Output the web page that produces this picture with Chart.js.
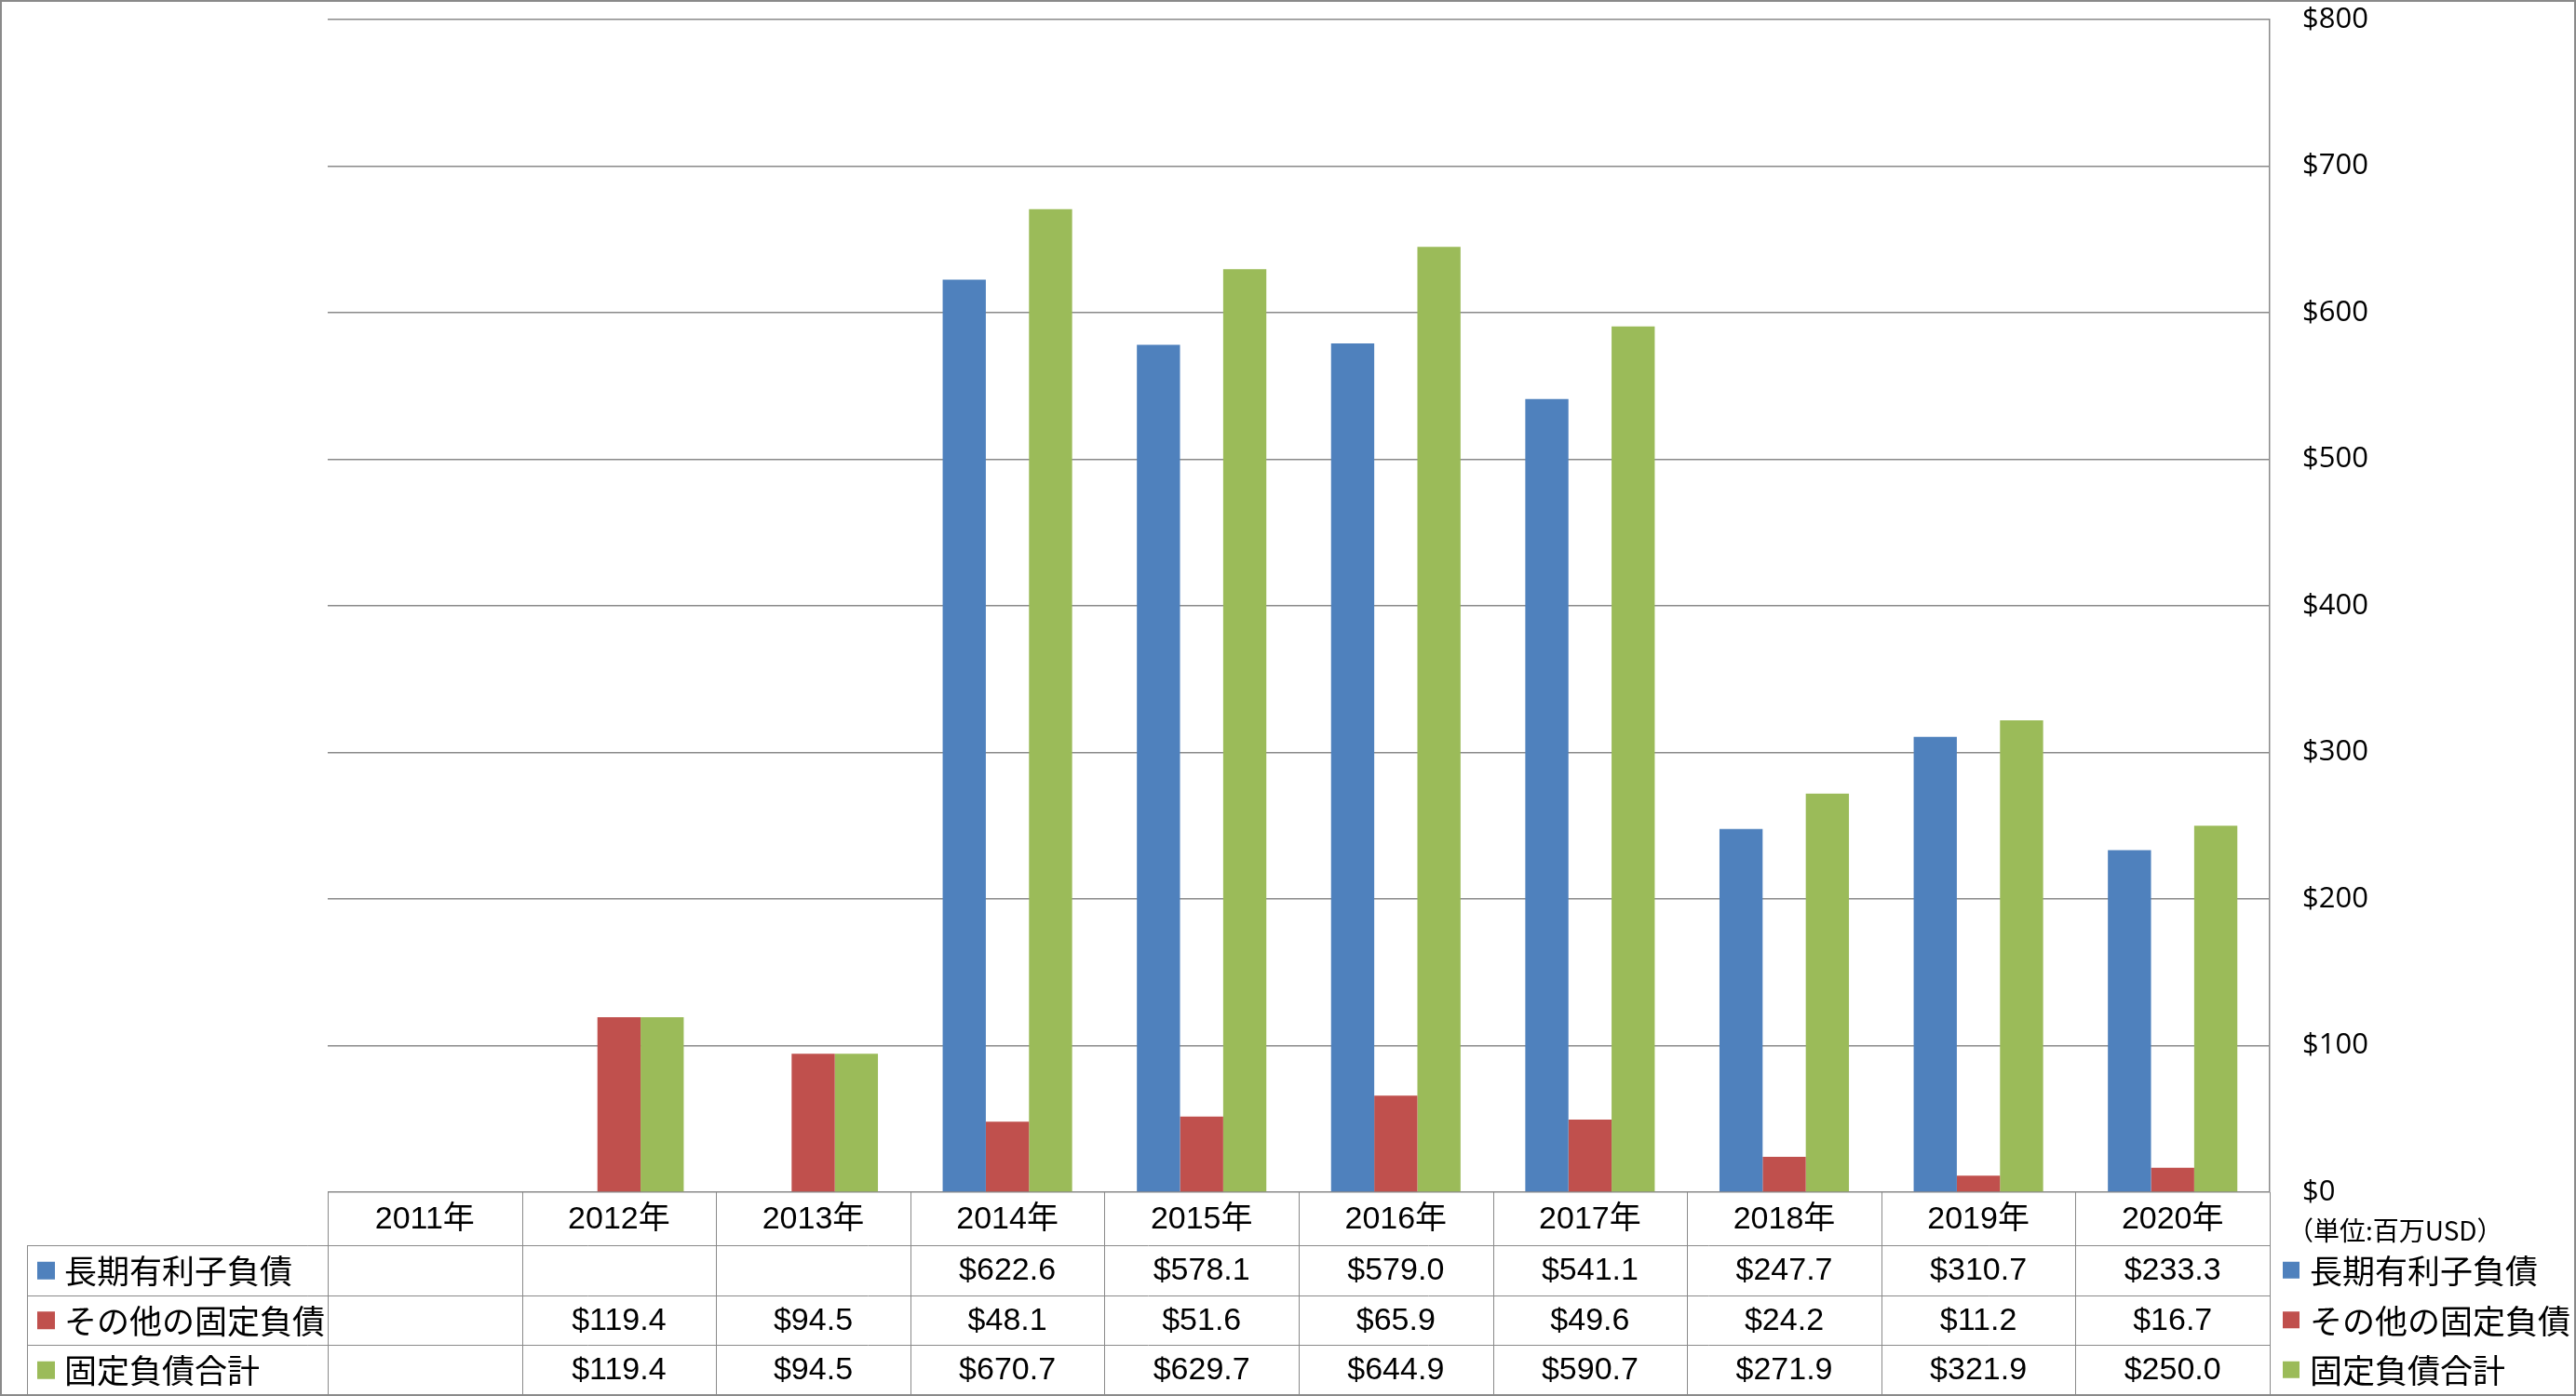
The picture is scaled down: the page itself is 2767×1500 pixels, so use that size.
<!DOCTYPE html>
<html>
<head>
<meta charset="utf-8">
<script src="https://cdn.jsdelivr.net/npm/chart.js@4.4.1/dist/chart.umd.min.js"></script>
<style>
    html, body { margin: 0; padding: 0; background: #fff; }
</style>
</head>
<body>
<canvas id="debtChart" width="2767" height="1500"></canvas>
<script>
const years = ["2011年", "2012年", "2013年", "2014年", "2015年", "2016年", "2017年", "2018年", "2019年", "2020年"];

const longTermDebt = [null, null, null, 622.6, 578.1, 579.0, 541.1, 247.7, 310.7, 233.3];
const otherFixed = [null, 119.4, 94.5, 48.1, 51.6, 65.9, 49.6, 24.2, 11.2, 16.7];
const fixedTotal = [null, 119.4, 94.5, 670.7, 629.7, 644.9, 590.7, 271.9, 321.9, 250.0];

const seriesNames = ["長期有利子負債", "その他の固定負債", "固定負債合計"];
const seriesColors = ["#4F81BD", "#C0504D", "#9BBB59"];
const unitLabel = "（単位:百万USD）";

const lineColor = "#8a8a8a";
const numFont = '34px "Liberation Sans", "Noto Sans CJK JP", sans-serif';
const jpFont = '35px "Noto Sans CJK JP", sans-serif';

// draws the data table under the plot plus the legend on the right
const dataTable = {
    id: "dataTable",
    afterDraw(chart) {
        const ctx = chart.ctx;
        const area = chart.chartArea;
        const x = chart.scales.x;
        const colW = (area.right - area.left) / years.length;
        const headerBottom = area.bottom + 57;
        const rowH = 53.5;
        const tableBottom = 1498;
        const series = [longTermDebt, otherFixed, fixedTotal];

        ctx.save();
        ctx.strokeStyle = lineColor;
        ctx.lineWidth = 1;

        // vertical cell borders
        for (let i = 0; i <= years.length; i++) {
            const px = Math.round(area.left + i * colW) + 0.5;
            ctx.beginPath();
            ctx.moveTo(px, area.bottom);
            ctx.lineTo(px, tableBottom);
            ctx.stroke();
        }
        ctx.beginPath();
        ctx.moveTo(29.5, headerBottom);
        ctx.lineTo(29.5, tableBottom);
        ctx.stroke();

        // horizontal row borders
        for (let r = 0; r < 3; r++) {
            const py = Math.round(headerBottom + r * rowH) + 0.5;
            ctx.beginPath();
            ctx.moveTo(29, py);
            ctx.lineTo(area.right, py);
            ctx.stroke();
        }

        ctx.textBaseline = "middle";

        // header labels
        ctx.fillStyle = "#000";
        ctx.textAlign = "center";
        ctx.font = numFont;
        years.forEach((y, i) => {
            ctx.fillText(y, x.getPixelForValue(i), (area.bottom + headerBottom) / 2 + 1);
        });

        // rows
        series.forEach((vals, r) => {
            const cy = headerBottom + r * rowH + rowH / 2;
            ctx.fillStyle = seriesColors[r];
            ctx.fillRect(40, cy - 9, 19, 19);
            ctx.fillStyle = "#000";
            ctx.textAlign = "left";
            ctx.font = jpFont;
            ctx.fillText(seriesNames[r], 69, cy + 1);

            ctx.textAlign = "center";
            ctx.font = numFont;
            vals.forEach((v, i) => {
                if (v === null) return;
                ctx.fillText("$" + v.toFixed(1), x.getPixelForValue(i), cy + 1);
            });

            // right side legend
            ctx.fillStyle = seriesColors[r];
            ctx.fillRect(2452, cy - 9, 18, 18);
            ctx.fillStyle = "#000";
            ctx.textAlign = "left";
            ctx.font = jpFont;
            ctx.fillText(seriesNames[r], 2481, cy + 1);
        });

        // unit note
        ctx.font = '28px "Noto Sans CJK JP", sans-serif';
        ctx.textAlign = "left";
        ctx.fillText(unitLabel, 2457, area.bottom + 41);

        // outer frame
        ctx.strokeStyle = lineColor;
        ctx.lineWidth = 2;
        ctx.strokeRect(1, 1, chart.width - 2, chart.height - 2);

        ctx.restore();
    }
};

const canvas = document.getElementById("debtChart");

const data = {
    labels: years,
    datasets: [
        {
            label: seriesNames[0],
            data: longTermDebt,
            backgroundColor: seriesColors[0],
        },
        {
            label: seriesNames[1],
            data: otherFixed,
            backgroundColor: seriesColors[1],
        },
        {
            label: seriesNames[2],
            data: fixedTotal,
            backgroundColor: seriesColors[2],
        },
    ],
};

const config = {
    type: "bar",
    data: data,
    options: {
        responsive: false,
        animation: false,
        categoryPercentage: 3 / 4.5,
        barPercentage: 1,
        layout: {
            padding: { left: 352, top: 21, bottom: 219, right: 0 },
        },
        plugins: {
            legend: { display: false },
            tooltip: { enabled: false },
        },
        scales: {
            x: {
                display: false,
            },
            y: {
                position: "right",
                min: 0,
                max: 800,
                afterFit(scale) {
                    scale.width = 329;
                    scale.paddingTop = 0;
                    scale.paddingBottom = 0;
                },
                ticks: {
                    stepSize: 100,
                    padding: 35,
                    color: "#000",
                    font: { family: '"Open Sans", sans-serif', size: 31 },
                    callback: (v) => "$" + v,
                },
                grid: {
                    color: lineColor,
                    lineWidth: 1.5,
                    drawTicks: false,
                },
                border: {
                    display: true,
                    color: lineColor,
                    width: 1.5,
                },
            },
        },
    },
    plugins: [dataTable],
};

new Chart(canvas, config);
</script>
</body>
</html>
